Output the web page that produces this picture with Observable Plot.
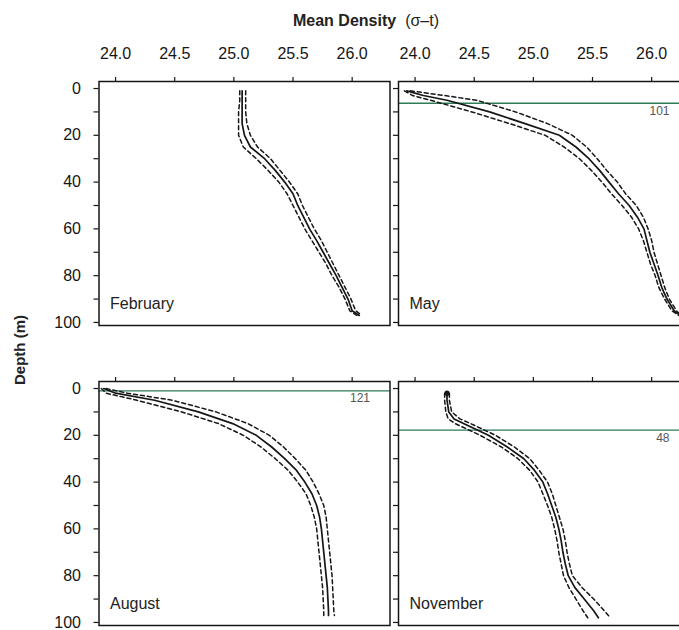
<!DOCTYPE html>
<html>
<head>
<meta charset="utf-8">
<script src="https://cdn.jsdelivr.net/npm/d3@7"></script>
<script src="https://cdn.jsdelivr.net/npm/@observablehq/plot@0.6"></script>
<style>
  html, body { margin: 0; padding: 0; background: #fff; }
  #chart { position: relative; width: 679px; height: 630px; overflow: hidden;
           font-family: "Liberation Sans", Arial, sans-serif; color: #222; }
  #chart svg { position: absolute; left: 0; top: 0; max-width: none !important; }
  .title { position: absolute; top: 13px; left: 366px; transform: translateX(-50%);
           font-size: 16px; font-weight: bold; white-space: nowrap; line-height: 1; }
  .title span { font-weight: normal; margin-left: 9px; }
  .ylabel { position: absolute; left: 19px; top: 350px; transform: translate(-50%, -50%) rotate(-90deg);
            font-size: 15px; font-weight: bold; white-space: nowrap; line-height: 1; }
</style>
</head>
<body>
<div id="chart">
  <div class="title">Mean Density<span>(σ–t)</span></div>
  <div class="ylabel">Depth (m)</div>
</div>
<script>
// Monthly mean sigma-t profiles with lower/upper bounds, by depth (m)
const months = ["February", "May", "August", "November"];

const febDepth = [1, 5, 10, 15, 20, 25, 30, 35, 40, 45, 50, 55, 60, 65, 70, 75, 80, 85, 90, 95, 97];
const febMean  = [25.07, 25.07, 25.07, 25.07, 25.09, 25.14, 25.26, 25.35, 25.43, 25.50, 25.54, 25.59, 25.64, 25.70, 25.755, 25.81, 25.865, 25.915, 25.965, 26.00, 26.06];
const febLow   = [25.05, 25.05, 25.04, 25.04, 25.04, 25.08, 25.19, 25.29, 25.38, 25.45, 25.50, 25.55, 25.60, 25.66, 25.72, 25.78, 25.83, 25.89, 25.94, 25.98, 26.04];
const febHigh  = [25.10, 25.10, 25.10, 25.11, 25.14, 25.20, 25.31, 25.39, 25.47, 25.54, 25.58, 25.63, 25.68, 25.74, 25.79, 25.84, 25.89, 25.94, 25.99, 26.03, 26.08];

const mayDepth = [1, 3, 5, 10, 15, 20, 25, 30, 35, 40, 45, 50, 55, 60, 65, 70, 75, 80, 85, 90, 95, 97];
const mayMean  = [23.93, 24.07, 24.27, 24.63, 24.93, 25.22, 25.36, 25.47, 25.56, 25.64, 25.72, 25.81, 25.88, 25.935, 25.96, 25.985, 26.02, 26.055, 26.085, 26.13, 26.19, 26.24];
const mayLow   = [23.91, 23.98, 24.13, 24.48, 24.80, 25.10, 25.26, 25.39, 25.49, 25.58, 25.66, 25.75, 25.83, 25.89, 25.93, 25.96, 25.99, 26.03, 26.06, 26.11, 26.17, 26.23];
const mayHigh  = [23.96, 24.25, 24.52, 24.85, 25.12, 25.33, 25.45, 25.54, 25.62, 25.71, 25.78, 25.87, 25.93, 25.97, 26.00, 26.02, 26.05, 26.08, 26.11, 26.15, 26.21, 26.25];

const augDepth = [0, 2, 5, 10, 15, 20, 25, 30, 35, 40, 45, 50, 55, 60, 65, 70, 75, 80, 85, 90, 95, 97];
const augMean  = [23.90, 24.00, 24.33, 24.70, 24.99, 25.19, 25.32, 25.43, 25.53, 25.60, 25.66, 25.70, 25.725, 25.74, 25.75, 25.76, 25.77, 25.78, 25.79, 25.795, 25.80, 25.80];
const augLow   = [23.88, 23.92, 24.18, 24.56, 24.87, 25.08, 25.23, 25.35, 25.46, 25.54, 25.61, 25.65, 25.68, 25.70, 25.71, 25.72, 25.73, 25.74, 25.75, 25.755, 25.76, 25.76];
const augHigh  = [23.92, 24.10, 24.48, 24.85, 25.12, 25.30, 25.42, 25.52, 25.61, 25.67, 25.72, 25.76, 25.78, 25.79, 25.80, 25.81, 25.82, 25.83, 25.835, 25.84, 25.845, 25.85];

const novDepth = [2, 5, 10, 13, 15, 20, 25, 30, 35, 40, 45, 50, 55, 60, 65, 70, 75, 80, 85, 90, 95, 98];
const novMean  = [24.27, 24.27, 24.285, 24.33, 24.41, 24.62, 24.78, 24.92, 25.01, 25.08, 25.12, 25.155, 25.19, 25.215, 25.235, 25.25, 25.27, 25.295, 25.35, 25.43, 25.51, 25.55];
const novLow   = [24.25, 24.25, 24.26, 24.28, 24.34, 24.55, 24.73, 24.87, 24.97, 25.04, 25.08, 25.12, 25.155, 25.18, 25.20, 25.215, 25.235, 25.255, 25.30, 25.36, 25.42, 25.46];
const novHigh  = [24.29, 24.29, 24.31, 24.38, 24.47, 24.68, 24.84, 24.97, 25.05, 25.12, 25.16, 25.19, 25.22, 25.25, 25.27, 25.285, 25.305, 25.33, 25.41, 25.51, 25.60, 25.65];

// Mixed-layer depth (m) and number of casts for each month
const mldDepth = [null, 6.3, 1.0, 17.8];
const mldCount = [null, "101", "121", "48"];

const xTicks = [24.0, 24.5, 25.0, 25.5, 26.0];
const yTicks = [0, 10, 20, 30, 40, 50, 60, 70, 80, 90, 100];

const profiles = [
  {depth: febDepth, mean: febMean, lo: febLow, hi: febHigh},
  {depth: mayDepth, mean: mayMean, lo: mayLow, hi: mayHigh},
  {depth: augDepth, mean: augMean, lo: augLow, hi: augHigh},
  {depth: novDepth, mean: novMean, lo: novLow, hi: novHigh}
];

// Panel layout: 2 x 2 grid of framed profiles sharing scales
const W = 700, H = 630;
const colEdges = [[98.5, 389.5], [398, 689]];
const rowEdges = [[81, 325], [381, 625]];
const ink = "#161616";

const chart = document.getElementById("chart");

months.forEach((month, i) => {
  const col = i % 2, row = Math.floor(i / 2);
  const p = profiles[i];
  const table = p.depth.map((d, j) => ({depth: d, mean: p.mean[j], lo: p.lo[j], hi: p.hi[j]}));

  const marks = [
    Plot.axisX({anchor: "top", ticks: xTicks, tickSize: 5, tickPadding: 18, strokeWidth: 1.2,
                tickFormat: row === 0 ? d => d.toFixed(1) : () => "", label: null, color: ink}),
    Plot.axisY({anchor: "left", ticks: yTicks, tickSize: 5, tickPadding: 13, strokeWidth: 1.2,
                tickFormat: col === 0 ? d => (d % 20 === 0 ? String(d) : "") : () => "", label: null, color: ink})
  ];

  if (mldDepth[i] != null) {
    const mld = [{depth: mldDepth[i], n: mldCount[i]}];
    marks.push(Plot.ruleY(mld, {y: "depth", stroke: "#2f7a58", strokeWidth: 1.3}));
    marks.push(Plot.text(mld, {y: "depth", text: "n", frameAnchor: "right", textAnchor: "end",
                               lineAnchor: "top", dx: -20, dy: 3, fontSize: 12, fill: "#555"}));
  }

  marks.push(
    Plot.line(table, {x: "lo", y: "depth", stroke: ink, strokeWidth: 1.5, strokeDasharray: "4,3"}),
    Plot.line(table, {x: "hi", y: "depth", stroke: ink, strokeWidth: 1.5, strokeDasharray: "4,3"}),
    Plot.line(table, {x: "mean", y: "depth", stroke: ink, strokeWidth: 1.7})
  );
  if (month === "November") {
    marks.push(Plot.dot(table.slice(0, 1), {x: "mean", y: "depth", r: 2.6, fill: ink}));
  }
  marks.push(
    Plot.text([month], {text: d => d, frameAnchor: "bottom-left", textAnchor: "start",
                        lineAnchor: "bottom", dx: 11, dy: -17, fontSize: 16, fill: "#222"}),
    Plot.frame({stroke: ink, strokeWidth: 1.5})
  );

  const svg = Plot.plot({
    width: W,
    height: H,
    marginLeft: colEdges[col][0],
    marginRight: W - colEdges[col][1],
    marginTop: rowEdges[row][0],
    marginBottom: H - rowEdges[row][1],
    x: {domain: [23.86, 26.32], axis: null, label: null},
    y: {domain: [-3, 101.3], reverse: true, axis: null, label: null},
    style: {background: "transparent", fontSize: "16px", maxWidth: "none",
            fontFamily: "'Liberation Sans', Arial, sans-serif", color: ink},
    marks
  });
  chart.appendChild(svg);
});
</script>
</body>
</html>
